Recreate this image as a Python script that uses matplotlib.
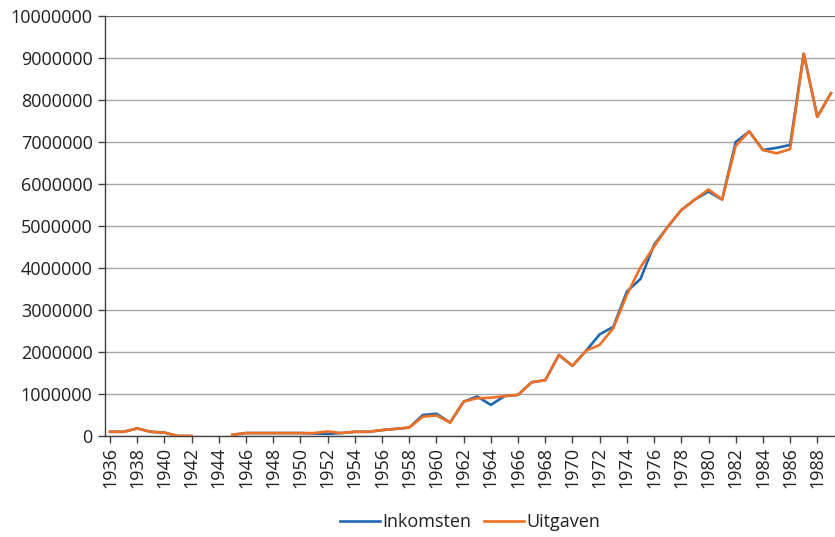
import numpy as np
import matplotlib
matplotlib.use('Agg')
import matplotlib.pyplot as plt

years = list(range(1936, 1990))

nan = np.nan
# values in guilders, 1943-1944 missing
inkomsten = [
    100000, 100000, 180000, 100000, 80000, 0, 0, nan, nan, 30000,      # 1936-1945
    70000, 70000, 70000, 70000, 70000, 60000, 50000, 70000, 100000, 100000,  # 1946-1955
    140000, 170000, 200000, 500000, 530000, 320000, 820000, 940000, 740000, 950000,  # 1956-1965
    980000, 1280000, 1330000, 1930000, 1670000, 2030000, 2420000, 2600000, 3440000, 3740000,  # 1966-1975
    4550000, 4980000, 5380000, 5630000, 5820000, 5630000, 7000000, 7250000, 6810000, 6860000,  # 1976-1985
    6930000, 9100000, 7600000, 8160000,  # 1986-1989
]
uitgaven = [
    100000, 100000, 180000, 100000, 80000, 0, 0, nan, nan, 30000,
    70000, 70000, 70000, 70000, 70000, 70000, 110000, 70000, 100000, 100000,
    140000, 170000, 200000, 460000, 490000, 320000, 820000, 900000, 910000, 950000,
    980000, 1280000, 1330000, 1930000, 1670000, 2030000, 2170000, 2570000, 3360000, 4020000,
    4510000, 4980000, 5380000, 5630000, 5870000, 5630000, 6910000, 7250000, 6810000, 6730000,
    6830000, 9100000, 7600000, 8160000,
]

BLUE = '#1f68b0'
ORANGE = '#f07023'
GRID = '#a6a6a6'
TEXT = '#231f20'

plt.rcParams['font.family'] = ['Open Sans', 'DejaVu Sans']

fig = plt.figure(figsize=(8.35, 5.37), dpi=100)
ax = fig.add_axes([105/835, 1 - 436/537, (835 - 105)/835, (436 - 16)/537])

ax.plot(years, inkomsten, color=BLUE, lw=1.9, label='Inkomsten', zorder=3)
ax.plot(years, uitgaven, color=ORANGE, lw=1.9, label='Uitgaven', zorder=4)

ax.set_ylim(0, 10000000)
ax.set_xlim(1935.63, 1989.3)
ax.set_yticks(np.arange(0, 10000001, 1000000))
ax.set_yticklabels([str(v) for v in range(0, 10000001, 1000000)])
ax.set_xticks(years[::2])
ax.set_xticklabels([str(y) for y in years[::2]], rotation=90)

ax.grid(axis='y', color=GRID, lw=1.0)
ax.set_axisbelow(True)
for s in ['top', 'right']:
    ax.spines[s].set_visible(False)
for s in ['left', 'bottom']:
    ax.spines[s].set_color('#404040')
    ax.spines[s].set_linewidth(1.0)
ax.axhline(10000000, color='#606060', lw=1.2, zorder=2)

ax.tick_params(axis='both', colors='#404040', labelcolor=TEXT, labelsize=13, length=5, width=1)
ax.tick_params(axis='y', pad=4)
ax.tick_params(axis='x', pad=3)

fig.legend(loc='lower center', bbox_to_anchor=(470/835, -0.02), ncol=2, frameon=False,
           fontsize=13, handlelength=2.2, handletextpad=0.15, columnspacing=0.7,
           labelcolor=TEXT)

fig.savefig('out.png', dpi=100, facecolor='white')
